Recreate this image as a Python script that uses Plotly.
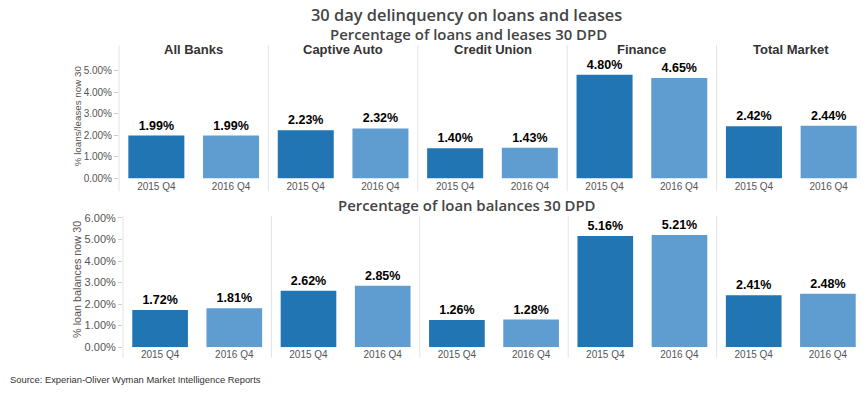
import plotly.graph_objects as go

# ---- data ----
segments = ["All Banks", "Captive Auto", "Credit Union", "Finance", "Total Market"]
periods = ["2015 Q4", "2016 Q4"]
pct_loans_leases_2015 = [1.99, 2.23, 1.40, 4.80, 2.42]
pct_loans_leases_2016 = [1.99, 2.32, 1.43, 4.65, 2.44]
pct_balances_2015 = [1.72, 2.62, 1.26, 5.16, 2.41]
pct_balances_2016 = [1.81, 2.85, 1.28, 5.21, 2.48]
top_ticks = [0, 1, 2, 3, 4, 5]
bottom_ticks = [0, 1, 2, 3, 4, 5, 6]

title_main = "30 day delinquency on loans and leases"
title_top = "Percentage of loans and leases 30 DPD"
title_bottom = "Percentage of loan balances 30 DPD"
ytitle_top = "% loans/leases now 30"
ytitle_bottom = "% loan balances now 30"
source_text = "Source: Experian-Oliver Wyman Market Intelligence Reports"

# ---- style ----
# the page body has an 8px margin, so the figure is 8px smaller and
# reference pixel positions are shifted by 8px
OFF = 8
W, H = 867 - OFF, 396 - OFF
DARK = "#2175b2"
LIGHT = "#5f9dd1"
bar_colors = [DARK, LIGHT]
DIV = "#e4e4e4"
FONT = "Arial, Liberation Sans, sans-serif"

def fx(px):
    return (px - OFF) / W

def fy(py):
    return 1 - (py - OFF) / H

rows = [
    dict(vals=(pct_loans_leases_2015, pct_loans_leases_2016), x0=119, x1=866,
         ytop=42, yzero=179, ybot=192, rng=137 / 22.2, ticks=top_ticks,
         tickfs=10, ytitle=ytitle_top, ytfs=9.8, ytcy=115),
    dict(vals=(pct_balances_2015, pct_balances_2016), x0=123, x1=865,
         ytop=217, yzero=352, ybot=363, rng=135 / 22.1, ticks=bottom_ticks,
         tickfs=11, ytitle=ytitle_bottom, ytfs=10.8, ytcy=283),
]

fig = go.Figure()
layout = dict(
    width=W, height=H,
    margin=dict(l=0, r=0, t=0, b=0),
    paper_bgcolor="white", plot_bgcolor="white",
    showlegend=False, bargap=0.25,
    font=dict(family=FONT, color="#555555"),
)
shapes = []
annotations = []

k = 0
for r, row in enumerate(rows):
    pw = (row["x1"] - row["x0"]) / len(segments)
    for i, seg in enumerate(segments):
        k += 1
        xa = "x" if k == 1 else f"x{k}"
        ya = "y" if k == 1 else f"y{k}"
        vals = [row["vals"][0][i], row["vals"][1][i]]
        fig.add_trace(go.Bar(
            x=periods, y=vals, xaxis=xa, yaxis=ya,
            marker=dict(color=bar_colors, line=dict(width=0)),
            texttemplate="%{y:.2f}%", textposition="outside",
            textfont=dict(family=FONT, size=12.5, color="black", weight="bold"),
            cliponaxis=False, hoverinfo="x+y",
        ))
        xl = row["x0"] + i * pw
        xr = xl + pw
        layout["xaxis" if k == 1 else f"xaxis{k}"] = dict(
            domain=[fx(xl), fx(xr)], anchor=ya, type="category",
            showgrid=False, zeroline=False, showline=False, ticks="",
            tickfont=dict(size=10, color="#555555"), fixedrange=True,
        )
        yd = dict(
            domain=[fy(row["yzero"]), fy(row["ytop"])], anchor=xa,
            range=[0, row["rng"]], showgrid=False, zeroline=False,
            showline=False, fixedrange=True,
        )
        if i == 0:
            yd.update(tickmode="array", tickvals=row["ticks"],
                      ticktext=[f"{v:.2f}%" for v in row["ticks"]],
                      ticks="outside", ticklen=4, tickcolor="#cccccc",
                      tickfont=dict(size=row["tickfs"], color="#555555"))
        else:
            yd.update(showticklabels=False, ticks="")
        layout["yaxis" if k == 1 else f"yaxis{k}"] = yd
        if r == 0:
            annotations.append(dict(
                text=seg, x=fx((xl + xr) / 2), y=fy(46.5), xref="paper", yref="paper",
                xanchor="center", yanchor="middle", showarrow=False,
                font=dict(size=13, color="#333333", weight="bold", family=FONT),
            ))
    # dividers
    for j in range(len(segments) + 1):
        xp = row["x0"] + j * pw
        shapes.append(dict(type="line", xref="paper", yref="paper",
                           x0=fx(xp), x1=fx(xp), y0=fy(row["ybot"]), y1=fy(row["ytop"]),
                           line=dict(color=DIV, width=1)))
    # y axis title
    annotations.append(dict(
        text=row["ytitle"], x=fx(77), y=fy(row["ytcy"]), xref="paper", yref="paper",
        xanchor="center", yanchor="middle", textangle=-90, showarrow=False,
        font=dict(size=row["ytfs"], color="#555555"),
    ))

# titles
annotations.append(dict(text=title_main, x=fx(466), y=fy(10.5), xref="paper", yref="paper",
                        xanchor="center", yanchor="middle", showarrow=False,
                        font=dict(family="Open Sans, sans-serif", size=16.4, color="#444444",
                                  weight=600)))
annotations.append(dict(text=title_top, x=fx(468), y=fy(31), xref="paper", yref="paper",
                        xanchor="center", yanchor="middle", showarrow=False,
                        font=dict(family="Open Sans, sans-serif", size=14.9, color="#444444",
                                  weight=600)))
annotations.append(dict(text=title_bottom, x=fx(467), y=fy(206), xref="paper", yref="paper",
                        xanchor="center", yanchor="middle", showarrow=False,
                        font=dict(family="Open Sans, sans-serif", size=14.9, color="#444444",
                                  weight=600)))
annotations.append(dict(text=source_text, x=fx(8), y=fy(385), xref="paper", yref="paper",
                        xanchor="left", yanchor="middle", showarrow=False,
                        font=dict(size=9.4, color="#333333")))

layout["shapes"] = shapes
layout["annotations"] = annotations
fig.update_layout(**layout)
fig.write_html("out.html")
